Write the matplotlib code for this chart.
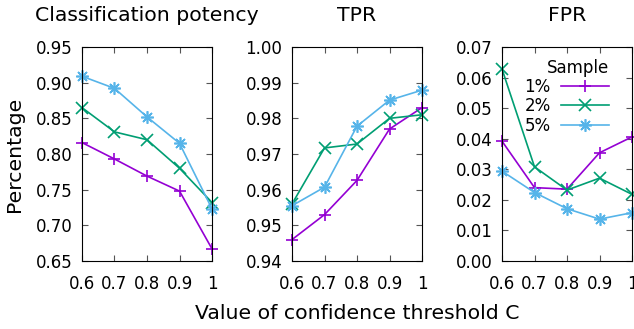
import numpy as np
import matplotlib
matplotlib.use("Agg")
import matplotlib.pyplot as plt

thresholds = [0.6, 0.7, 0.8, 0.9, 1.0]
xticklabels = ["0.6", "0.7", "0.8", "0.9", "1"]
samples = ["1%", "2%", "5%"]

potency = {
    "1%": [0.816, 0.793, 0.769, 0.748, 0.667],
    "2%": [0.865, 0.831, 0.820, 0.780, 0.732],
    "5%": [0.909, 0.892, 0.852, 0.815, 0.723],
}
tpr = {
    "1%": [0.946, 0.953, 0.9626, 0.977, 0.983],
    "2%": [0.956, 0.9717, 0.9728, 0.980, 0.981],
    "5%": [0.9555, 0.9607, 0.9778, 0.9851, 0.9879],
}
fpr = {
    "1%": [0.0392, 0.0240, 0.0235, 0.0354, 0.0406],
    "2%": [0.0628, 0.0308, 0.0232, 0.0271, 0.0218],
    "5%": [0.0294, 0.0224, 0.0171, 0.0137, 0.0158],
}

colors = {"1%": "#9400d3", "2%": "#009e73", "5%": "#56b4e9"}
markers = {"1%": "+", "2%": "x", "5%": (8, 2, 0)}

panels = [
    ("Classification potency", potency, (0.65, 0.95), np.arange(0.65, 0.951, 0.05), "%.2f"),
    ("TPR", tpr, (0.94, 1.00), np.arange(0.94, 1.0001, 0.01), "%.2f"),
    ("FPR", fpr, (0.0, 0.07), np.arange(0.0, 0.0701, 0.01), "%.2f"),
]

fig = plt.figure(figsize=(6.34, 3.29), dpi=100)
lefts = [82, 292, 502]
for i, (title, data, ylim, yticks, fmt) in enumerate(panels):
    ax = fig.add_axes([lefts[i] / 634, 68 / 329, 130 / 634, 214 / 329])
    for s in samples:
        ax.plot(thresholds, data[s], color=colors[s], marker=markers[s],
                markersize=9, markeredgewidth=1.2, linewidth=1.2,
                label=s, clip_on=False)
    ax.set_xlim(0.6, 1.0)
    ax.set_ylim(*ylim)
    ax.set_xticks(thresholds)
    ax.set_xticklabels(xticklabels)
    ax.set_yticks(yticks)
    ax.set_yticklabels([fmt % v for v in yticks])
    ax.tick_params(direction="in", top=True, right=True, length=4,
                   labelsize=12, color="#555555")
    ax.tick_params(axis="x", pad=10)
    ax.tick_params(axis="y", pad=7)
    ax.set_title(title, fontsize=14.7, pad=19)
    if i == 0:
        ax.set_ylabel("Percentage", fontsize=14.7, labelpad=8)
    if i == 1:
        ax.set_xlabel("Value of confidence threshold C", fontsize=14.7, labelpad=8)
    if i == 2:
        leg = ax.legend(title="Sample", loc="upper right", frameon=False,
                        bbox_to_anchor=(0.874, 0.977), borderaxespad=0,
                        markerfirst=False, fontsize=12, title_fontsize=12,
                        handlelength=2.9, labelspacing=0.08,
                        handletextpad=0.6)
        leg._legend_box.align = "right"

fig.savefig("out.png", dpi=100)
